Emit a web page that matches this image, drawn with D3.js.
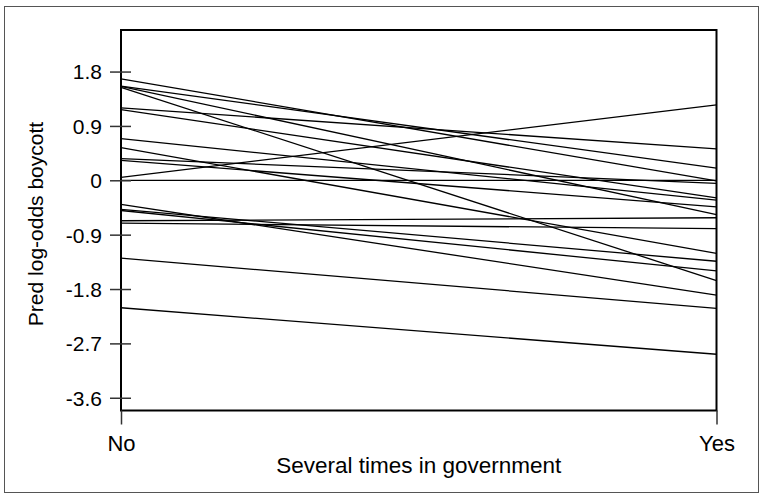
<!DOCTYPE html>
<html>
<head>
<meta charset="utf-8">
<script src="https://cdn.jsdelivr.net/npm/d3@7"></script>
<style>
  html, body { margin: 0; padding: 0; background: #fff; }
  svg { display: block; }
  text { font-family: "Liberation Sans", Arial, sans-serif; fill: #000; }
</style>
</head>
<body>
<svg id="chart" width="763" height="499"></svg>
<script>
// ---- Data ----
const categories = ["No", "Yes"];
// Predicted log-odds of boycott for each group: value at "No" and at "Yes"
const valuesNo  = [1.68, 1.56, 1.556, 1.54, 1.20, 1.17, 0.69, 0.54, 0.36, 0.33, 0.05, 0.00,
                   -0.40, -0.48, -0.50, -0.67, -0.71, -1.29, -2.11];
const valuesYes = [-0.01, 0.20, -0.57, -1.66, 0.52, -0.29, -0.33, -1.21, -0.05, -0.44, 1.25, 0.00,
                   -1.90, -1.34, -1.50, -0.62, -0.80, -2.12, -2.88];
const yTicks = [1.8, 0.9, 0, -0.9, -1.8, -2.7, -3.6];
const yTickLabels = ["1.8", "0.9", "0", "-0.9", "-1.8", "-2.7", "-3.6"];
const xTitle = "Several times in government";
const yTitle = "Pred log-odds boycott";

// ---- Layout ----
const svg = d3.select("#chart");
const plot = { left: 121, right: 716.5, top: 30, bottom: 410.5 };

const x = d3.scalePoint().domain(categories).range([plot.left, plot.right]).padding(0);
const y = d3.scaleLinear().domain([-3.811, 2.488]).range([plot.bottom, plot.top]);

// outer frame
svg.append("rect")
  .attr("x", 4.5).attr("y", 6.5)
  .attr("width", 754).attr("height", 486)
  .attr("fill", "none").attr("stroke", "#555").attr("stroke-width", 1);

// lines
const series = valuesNo.map((v, i) => [v, valuesYes[i]]);
const line = d3.line().x((d, j) => x(categories[j])).y(d => y(d));
svg.append("g").selectAll("path").data(series).join("path")
  .attr("d", d => line(d))
  .attr("fill", "none").attr("stroke", "#000").attr("stroke-width", 1.3);

// plot frame
svg.append("rect")
  .attr("x", plot.left).attr("y", plot.top)
  .attr("width", plot.right - plot.left).attr("height", plot.bottom - plot.top)
  .attr("fill", "none").attr("stroke", "#000").attr("stroke-width", 2);

// y axis
const yAxis = d3.axisLeft(y).tickValues(yTicks)
  .tickFormat((d, i) => yTickLabels[i]).tickSize(11).tickPadding(8);
const gy = svg.append("g").attr("transform", `translate(${plot.left},0)`).call(yAxis);
gy.select(".domain").remove();
gy.selectAll(".tick line").attr("x2", -11).attr("x1", 10).attr("stroke", "#333").attr("stroke-width", 1.5);
gy.selectAll(".tick text").attr("x", -19).attr("dy", "0.35em")
  .style("font-family", '"Liberation Sans", Arial, sans-serif').style("font-size", "21px").attr("fill", "#000");

// x axis
const xAxis = d3.axisBottom(x).tickSize(14).tickPadding(8);
const gx = svg.append("g").attr("transform", `translate(0,${plot.bottom})`).call(xAxis);
gx.select(".domain").remove();
gx.selectAll(".tick line").attr("stroke", "#333").attr("stroke-width", 1.5);
gx.selectAll(".tick text").attr("y", 40).attr("dy", 0)
  .style("font-family", '"Liberation Sans", Arial, sans-serif').style("font-size", "22px").attr("fill", "#000");

// titles
svg.append("text")
  .attr("x", (plot.left + plot.right) / 2).attr("y", 473)
  .attr("text-anchor", "middle").style("font-size", "22.5px").text(xTitle);
svg.append("text")
  .attr("transform", `translate(43,224) rotate(-90)`)
  .attr("text-anchor", "middle").style("font-size", "21px").text(yTitle);
</script>
</body>
</html>
